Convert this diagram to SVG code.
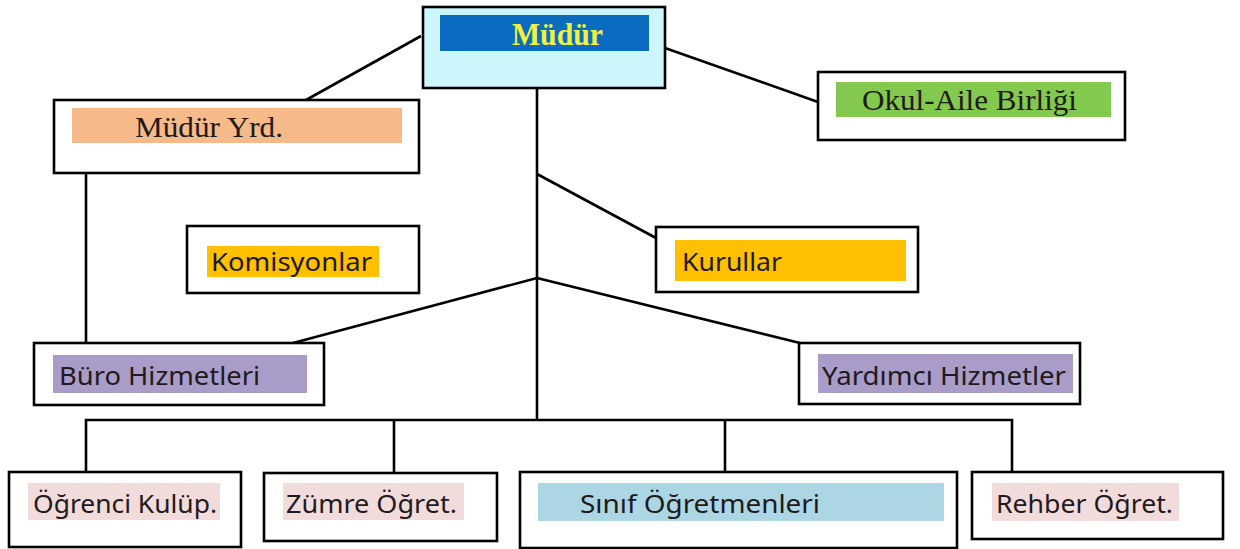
<svg xmlns="http://www.w3.org/2000/svg" width="1240" height="549" viewBox="0 0 1240 549">
<style>
.box{fill:#fff;stroke:#000;stroke-width:2.6}
.ln{stroke:#000;stroke-width:2.6;fill:none}
.serif{font-family:"Liberation Serif","Times New Roman",serif;font-size:30px;fill:#1e1a14}
.sans{font-family:"Noto Sans","Open Sans",sans-serif;font-size:26px;fill:#1e1a20}
</style>
<rect width="1240" height="549" fill="#fff"/>
<g id="connectors">
<line class="ln" x1="537" y1="88" x2="537" y2="420"/>
<line class="ln" x1="421" y1="36" x2="306" y2="100"/>
<line class="ln" x1="665" y1="48" x2="818" y2="102"/>
<line class="ln" x1="537" y1="174" x2="656" y2="238"/>
<line class="ln" x1="86" y1="173" x2="86" y2="343"/>
<line class="ln" x1="537" y1="278" x2="293" y2="343"/>
<line class="ln" x1="537" y1="278" x2="800" y2="343"/>
<polyline class="ln" points="86,472 86,420 1012,420 1012,472"/>
<line class="ln" x1="394" y1="420" x2="394" y2="473"/>
<line class="ln" x1="725" y1="420" x2="725" y2="472"/>
</g>
<g id="mudur">
<rect x="423" y="7" width="242" height="81" fill="#cdf6fc" stroke="#000" stroke-width="2.6"/>
<rect x="440" y="15" width="209" height="36" fill="#0a6cc0"/>
<text x="512" y="45" textLength="91" lengthAdjust="spacingAndGlyphs" style="font-family:'Liberation Serif','Times New Roman',serif;font-size:31px;font-weight:bold;fill:#f2f23c">Müdür</text>
</g>
<g id="mudur-yrd">
<rect class="box" x="54" y="100" width="365" height="73"/>
<rect x="72" y="108" width="330" height="35" fill="#f5b98a"/>
<text class="serif" x="135" y="137" textLength="148" lengthAdjust="spacingAndGlyphs">Müdür Yrd.</text>
</g>
<g id="okul-aile">
<rect class="box" x="818" y="72" width="307" height="68"/>
<rect x="836" y="82" width="275" height="35" fill="#84c94f"/>
<text class="serif" x="862" y="110" textLength="215" lengthAdjust="spacingAndGlyphs">Okul-Aile Birliği</text>
</g>
<g id="komisyonlar">
<rect class="box" x="187" y="226" width="232" height="67"/>
<rect x="207" y="246" width="172" height="31" fill="#ffc000"/>
<text class="sans" x="211" y="271" textLength="161" lengthAdjust="spacingAndGlyphs">Komisyonlar</text>
</g>
<g id="kurullar">
<rect class="box" x="656" y="227" width="262" height="65"/>
<rect x="675" y="240" width="231" height="41" fill="#ffc000"/>
<text class="sans" x="682" y="271" textLength="100" lengthAdjust="spacingAndGlyphs">Kurullar</text>
</g>
<g id="buro">
<rect class="box" x="34" y="343" width="290" height="62"/>
<rect x="53" y="355" width="254" height="38" fill="#a99cc8"/>
<text class="sans" x="59" y="385" textLength="201" lengthAdjust="spacingAndGlyphs">Büro Hizmetleri</text>
</g>
<g id="yardimci">
<rect class="box" x="799" y="343" width="281" height="61"/>
<rect x="818" y="354" width="255" height="39" fill="#a99cc8"/>
<text class="sans" x="822" y="385" textLength="244" lengthAdjust="spacingAndGlyphs">Yardımcı Hizmetler</text>
</g>
<g id="ogrenci">
<rect class="box" x="9" y="472" width="232" height="75"/>
<rect x="28" y="483" width="192" height="37" fill="#f2dcdb"/>
<text class="sans" x="33" y="513" textLength="184" lengthAdjust="spacingAndGlyphs">Öğrenci Kulüp.</text>
</g>
<g id="zumre">
<rect class="box" x="264" y="473" width="233" height="68"/>
<rect x="283" y="483" width="181" height="37" fill="#f2dcdb"/>
<text class="sans" x="286" y="513" textLength="171" lengthAdjust="spacingAndGlyphs">Zümre Öğret.</text>
</g>
<g id="sinif">
<rect class="box" x="520" y="472" width="437" height="76"/>
<rect x="538" y="483" width="406" height="38" fill="#acd6e4"/>
<text class="sans" x="580" y="513" textLength="240" lengthAdjust="spacingAndGlyphs">Sınıf Öğretmenleri</text>
</g>
<g id="rehber">
<rect class="box" x="972" y="472" width="251" height="67"/>
<rect x="992" y="483" width="187" height="38" fill="#f2dcdb"/>
<text class="sans" x="996" y="513" textLength="177" lengthAdjust="spacingAndGlyphs">Rehber Öğret.</text>
</g>
</svg>
